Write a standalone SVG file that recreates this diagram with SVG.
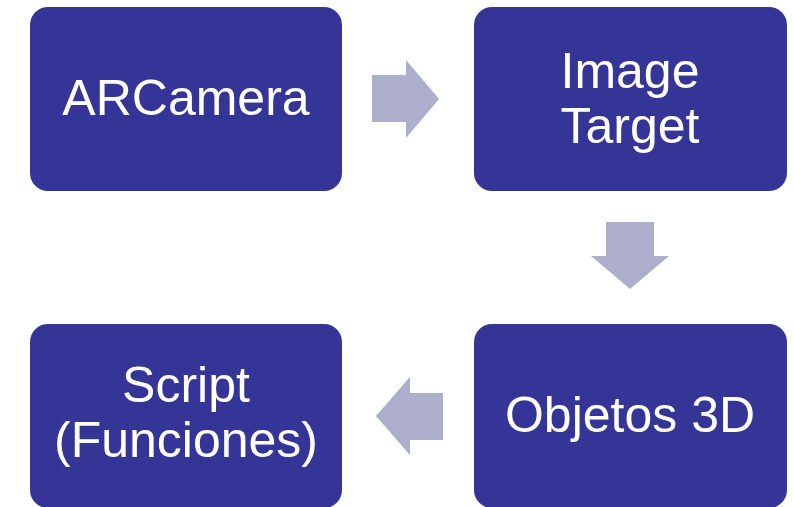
<svg xmlns="http://www.w3.org/2000/svg" width="793" height="507" viewBox="0 0 793 507">
  <style>
    .box { fill: #353597; }
    .arrow { fill: #ADADCC; }
    .label { fill: #FFFFFF; font-family: "Liberation Sans", Arial, sans-serif; font-size: 50px; text-anchor: middle; }
  </style>
  <rect width="793" height="507" fill="#FFFFFF"/>

  <g id="connectors">
    <!-- ARCamera to Image Target -->
    <polygon class="arrow" points="372,75 406,75 406,60 439,99 406,138 406,122 372,122"/>
    <!-- Image Target to Objetos 3D -->
    <polygon class="arrow" points="606,222 654,222 654,256 669,256 630,289 591,256 606,256"/>
    <!-- Objetos 3D to Script -->
    <polygon class="arrow" points="443,393 410,393 410,377 376,416 410,455 410,440 443,440"/>
  </g>

  <g id="arcamera">
    <rect class="box" x="30" y="7" width="312" height="184" rx="18"/>
    <text class="label" x="186" y="115">ARCamera</text>
  </g>

  <g id="image-target">
    <rect class="box" x="474" y="7" width="313" height="184" rx="18"/>
    <text class="label" x="630" y="88">Image</text>
    <text class="label" x="630" y="143">Target</text>
  </g>

  <g id="objetos-3d">
    <rect class="box" x="474" y="324" width="313" height="184" rx="18"/>
    <text class="label" x="630" y="432">Objetos 3D</text>
  </g>

  <g id="script">
    <rect class="box" x="30" y="324" width="312" height="184" rx="18"/>
    <text class="label" x="186" y="402">Script</text>
    <text class="label" x="186" y="457">(Funciones)</text>
  </g>
</svg>
